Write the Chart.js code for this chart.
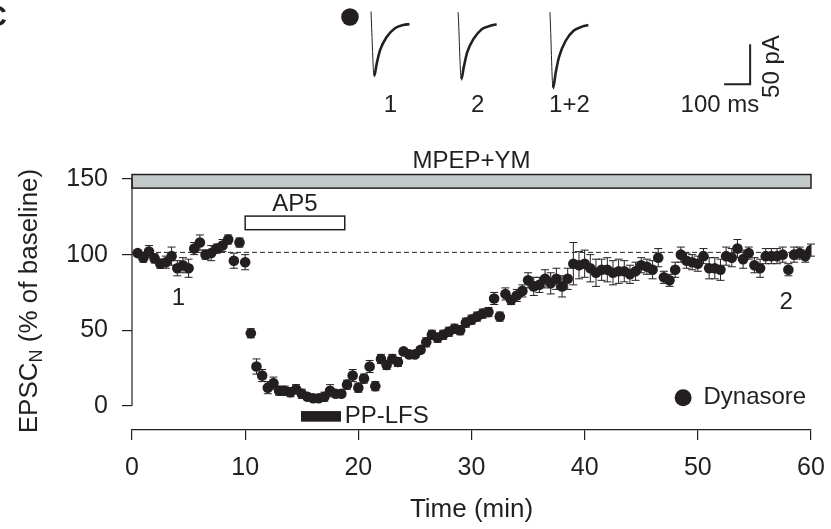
<!DOCTYPE html>
<html lang="en">
<head>
<meta charset="UTF-8">
<title>EPSC - Dynasore</title>
<script src="https://cdn.jsdelivr.net/npm/chart.js@4.4.1/dist/chart.umd.min.js"></script>
<style>
  body { margin: 0; background: #fff; }
  #wrap { position: relative; width: 831px; height: 529px; }
  #grafico, #inset { position: absolute; left: 0; top: 0; }
  #inset { pointer-events: none; }
</style>
</head>
<body>
<div id="wrap">
  <canvas id="grafico" width="831" height="529"></canvas>
  <canvas id="inset" width="831" height="130"></canvas>
</div>
<script>
// Tempo (min) de cada ponto
const tempos = [
  0.5, 1, 1.5, 2, 2.5, 3, 3.5, 4, 4.5, 5, 5.5, 6, 6.5, 7, 7.5, 8, 8.5, 9, 9.5, 10,
  10.5, 11, 11.5, 12, 12.5, 13, 13.5, 14, 14.5, 15, 15.5, 16, 16.5, 17, 17.5, 18, 18.5, 19, 19.5, 20,
  20.5, 21, 21.5, 22, 22.5, 23, 23.5, 24, 24.5, 25, 25.5, 26, 26.5, 27, 27.5, 28, 28.5, 29, 29.5, 30,
  30.5, 31, 31.5, 32, 32.5, 33, 33.5, 34, 34.5, 35, 35.5, 36, 36.5, 37, 37.5, 38, 38.5, 39, 39.5, 40,
  40.5, 41, 41.5, 42, 42.5, 43, 43.5, 44, 44.5, 45, 45.5, 46, 46.5, 47, 47.5, 48, 48.5, 49, 49.5, 50,
  50.5, 51, 51.5, 52, 52.5, 53, 53.5, 54, 54.5, 55, 55.5, 56, 56.5, 57, 57.5, 58, 58.5, 59, 59.5, 60
];
// EPSC_N (% do baseline)
const valores = [
  101, 98, 102, 97.5, 94, 95, 99, 91, 93, 91, 104, 108, 100, 101, 104, 106, 110, 96, 108, 95,
  48, 26, 20, 12, 15, 10, 10, 9, 11, 8, 6, 5, 5, 6, 10, 8, 8, 14, 20, 12,
  18, 26, 13, 31, 27, 31, 29, 36, 34, 34, 37, 42, 47, 45, 47, 49, 51, 50, 55, 57,
  59, 61, 62, 71, 59, 74, 70, 73, 76, 83, 79, 80, 84, 81, 84, 79, 84, 94, 93, 94,
  91, 88, 90, 90, 88, 89, 89, 87, 89, 93, 92, 90, 98, 85, 83, 90, 100, 96, 95, 94,
  99, 91, 91, 90, 99, 98, 104, 97, 101, 93, 91, 99, 99, 99, 100, 90, 100, 101, 99, 103
];
// erro padrão
const erros = [
  2, 3, 4, 3, 3, 4, 6, 5, 5, 6, 4, 5, 3, 5, 3, 4, 3, 5, 3, 5,
  3, 5, 4, 4, 4, 3, 3, 3, 3, 3, 2, 2, 2, 3, 4, 2, 2, 3, 4, 3,
  3, 4, 3, 3, 3, 3, 3, 2, 2, 2, 2, 3, 3, 3, 3, 3, 3, 3, 3, 3,
  3, 3, 3, 4, 3, 4, 3, 4, 4, 5, 6, 5, 6, 7, 7, 7, 7, 14, 9, 9,
  9, 9, 7, 8, 8, 8, 7, 6, 6, 5, 5, 6, 6, 4, 4, 5, 5, 5, 5, 5,
  5, 7, 7, 7, 6, 6, 6, 6, 4, 5, 6, 5, 5, 5, 5, 4, 5, 4, 4, 4
];
const ticksX = [0, 10, 20, 30, 40, 50, 60];
const ticksY = [0, 50, 100, 150];
const linhaBase = 101.5;

// periodos de tratamento (min)
const mpep = [0, 60];
const ap5 = [10, 18.8];
const ppLfs = [15, 18.4];

// traços de exemplo (ms, pA)
const tracoMs = [0, 1, 12, 22, 35, 60, 92, 124, 148];
const traco1 = [7, -2, -74, -58, -41, -25, -14, -10, -9];
const traco2 = [6, -1, -78, -62, -44, -27, -15, -11, -9];
const traco12 = [6, -1, -89, -70, -50, -30, -17, -12, -10];
const rotulosTraco = ['1', '2', '1+2'];

const cor = '#231f20';
const familia = 'Arial, "Liberation Sans", sans-serif';
const fonte = '24px ' + familia;
const fonteEixo = '26px ' + familia;

function retangulo(ctx, x, y, t0, t1, v0, v1, preenchimento) {
  const l = x.getPixelForValue(t0), r = x.getPixelForValue(t1);
  const top = y.getPixelForValue(v1), bot = y.getPixelForValue(v0);
  ctx.fillStyle = preenchimento;
  ctx.fillRect(l, top, r - l, bot - top);
  ctx.strokeStyle = cor;
  ctx.lineWidth = 1.5;
  ctx.strokeRect(l, top, r - l, bot - top);
}

const decoracao = {
  id: 'decoracao',
  beforeDatasetsDraw(chart) {
    const { ctx, scales: { x, y } } = chart;
    ctx.save();
    retangulo(ctx, x, y, mpep[0], mpep[1], 144, 153, '#c3c9c9');
    retangulo(ctx, x, y, ap5[0], ap5[1], 116.5, 125.5, '#fff');
    retangulo(ctx, x, y, ppLfs[0], ppLfs[1], -10, -4, cor);

    // barras de erro
    ctx.strokeStyle = cor;
    ctx.lineWidth = 1;
    tempos.forEach((t, i) => {
      const px = x.getPixelForValue(t);
      const top = y.getPixelForValue(valores[i] + erros[i]);
      const bot = y.getPixelForValue(valores[i] - erros[i]);
      ctx.beginPath();
      ctx.moveTo(px, top); ctx.lineTo(px, bot);
      ctx.moveTo(px - 4, top); ctx.lineTo(px + 4, top);
      ctx.moveTo(px - 4, bot); ctx.lineTo(px + 4, bot);
      ctx.stroke();
    });
    ctx.restore();
  },
  afterDraw(chart) {
    const { ctx, chartArea, scales: { x, y } } = chart;
    ctx.save();
    // eixo Y só de 0 a 150
    ctx.strokeStyle = cor;
    ctx.lineWidth = 1.2;
    ctx.beginPath();
    ctx.moveTo(chartArea.left, y.getPixelForValue(0));
    ctx.lineTo(chartArea.left, y.getPixelForValue(150));
    ctx.stroke();

    ctx.fillStyle = cor;
    ctx.font = fonte;
    ctx.textBaseline = 'middle';
    ctx.textAlign = 'center';
    ctx.fillText('MPEP+YM', x.getPixelForValue(30), y.getPixelForValue(162));
    ctx.fillText('AP5', x.getPixelForValue(14.4), y.getPixelForValue(133));
    ctx.fillText('1', x.getPixelForValue(4.1), y.getPixelForValue(71));
    ctx.fillText('2', x.getPixelForValue(57.8), y.getPixelForValue(68.5));
    ctx.textAlign = 'left';
    ctx.fillText('PP-LFS', x.getPixelForValue(18.8), y.getPixelForValue(-7.3));

    // legenda
    ctx.beginPath();
    ctx.arc(x.getPixelForValue(48.7), y.getPixelForValue(5.3), 8.5, 0, Math.PI * 2);
    ctx.fill();
    ctx.fillText('Dynasore', x.getPixelForValue(50.5), y.getPixelForValue(5.3));

    // titulo do eixo Y com subscrito
    ctx.translate(30, 301);
    ctx.rotate(-Math.PI / 2);
    const partes = ['EPSC', 'N', ' (% of baseline)'];
    const fontePeq = '18px ' + familia;
    ctx.font = fonteEixo;
    const w0 = ctx.measureText(partes[0]).width;
    const w2 = ctx.measureText(partes[2]).width;
    ctx.font = fontePeq;
    const w1 = ctx.measureText(partes[1]).width;
    let px = -(w0 + w1 + w2) / 2;
    ctx.textAlign = 'left';
    ctx.font = fonteEixo;
    ctx.fillText(partes[0], px, 0);
    px += w0;
    ctx.font = fontePeq;
    ctx.fillText(partes[1], px, 7);
    px += w1;
    ctx.font = fonteEixo;
    ctx.fillText(partes[2], px, 0);
    ctx.restore();

    // letra do painel (cortada)
    ctx.save();
    ctx.fillStyle = cor;
    ctx.font = 'bold 30px ' + familia;
    ctx.textAlign = 'right';
    ctx.textBaseline = 'alphabetic';
    ctx.fillText('C', 7, 26);
    ctx.restore();
  }
};

const grafico = new Chart(document.getElementById('grafico'), {
  type: 'scatter',
  data: {
    datasets: [{
      label: 'Dynasore',
      data: tempos.map((t, i) => ({ x: t, y: valores[i] })),
      backgroundColor: cor,
      borderWidth: 0,
      pointRadius: 5.3,
      pointHoverRadius: 5.3
    }, {
      type: 'line',
      data: [{ x: 0, y: linhaBase }, { x: 60, y: linhaBase }],
      borderColor: cor,
      borderWidth: 1,
      borderDash: [5, 3],
      pointRadius: 0
    }]
  },
  options: {
    responsive: false,
    animation: false,
    devicePixelRatio: 1,
    layout: { autoPadding: false, padding: { top: 160, right: 20, left: 0, bottom: 0 } },
    plugins: { legend: { display: false }, tooltip: { enabled: false } },
    scales: {
      x: {
        type: 'linear', min: 0, max: 60,
        afterBuildTicks: (s) => { s.ticks = ticksX.map(v => ({ value: v })); },
        afterFit: (s) => { s.height = 99; s.paddingLeft = 0; s.paddingRight = 0; },
        ticks: { color: cor, font: { size: 25, family: familia }, padding: 13, maxRotation: 0 },
        grid: { drawOnChartArea: false, tickLength: 10, color: cor, lineWidth: 1.2 },
        border: { color: cor, width: 1.2 },
        title: { display: true, text: 'Time (min)', color: cor, font: { size: 26, family: familia }, padding: { top: 0, bottom: 4 } }
      },
      y: {
        min: -16, max: 162.6,
        afterBuildTicks: (s) => { s.ticks = ticksY.map(v => ({ value: v })); },
        afterFit: (s) => { s.width = 132; s.paddingTop = 0; s.paddingBottom = 0; },
        ticks: { color: cor, font: { size: 25, family: familia }, padding: 14 },
        grid: { drawOnChartArea: false, tickLength: 10, color: cor, lineWidth: 1.2 },
        border: { display: false }
      }
    }
  },
  plugins: [decoracao]
});

// ---- inset com os traços ----
const inicioTraco = [0, 335, 688]; // ms, posição de cada traço
const rotulosInset = {
  id: 'rotulosInset',
  afterDraw(chart) {
    const { ctx, scales: { x, y } } = chart;
    ctx.save();
    ctx.fillStyle = cor;
    ctx.font = fonte;
    ctx.textAlign = 'center';
    ctx.textBaseline = 'middle';
    rotulosTraco.forEach((r, i) => {
      ctx.fillText(r, x.getPixelForValue(inicioTraco[i] + 75), y.getPixelForValue(-111));
    });
    ctx.fillText('100 ms', x.getPixelForValue(1342), y.getPixelForValue(-111));
    ctx.translate(x.getPixelForValue(1545), y.getPixelForValue(-62));
    ctx.rotate(-Math.PI / 2);
    ctx.fillText('50 pA', 0, 0);
    ctx.restore();
  }
};

function serieTraco(amostras, inicio) {
  return tracoMs.map((t, i) => ({ x: inicio + t, y: amostras[i] }));
}
// descida fina, recuperação mais grossa
const estiloTraco = {
  borderColor: cor, borderWidth: 2.6, pointRadius: 0, cubicInterpolationMode: 'monotone',
  segment: { borderWidth: (c) => (c.p0DataIndex < 2 ? 1 : 2.6) }
};

const inset = new Chart(document.getElementById('inset'), {
  type: 'line',
  data: {
    datasets: [
      Object.assign({ data: serieTraco(traco1, inicioTraco[0]) }, estiloTraco),
      Object.assign({ data: serieTraco(traco2, inicioTraco[1]) }, estiloTraco),
      Object.assign({ data: serieTraco(traco12, inicioTraco[2]) }, estiloTraco),
      { data: [{ x: 1358, y: -84 }, { x: 1458, y: -84 }, { x: 1458, y: -34 }], borderColor: cor, borderWidth: 2, pointRadius: 0 },
      { type: 'scatter', data: [{ x: -81, y: 0 }], backgroundColor: cor, borderWidth: 0, pointRadius: 8.8 }
    ]
  },
  options: {
    responsive: false,
    animation: false,
    devicePixelRatio: 1,
    layout: { autoPadding: false, padding: 0 },
    plugins: { legend: { display: false }, tooltip: { enabled: false } },
    scales: {
      x: { type: 'linear', min: -1427, max: 1769, display: false },
      y: { min: -141.25, max: 21.25, display: false }
    }
  },
  plugins: [rotulosInset]
});
</script>
</body>
</html>
